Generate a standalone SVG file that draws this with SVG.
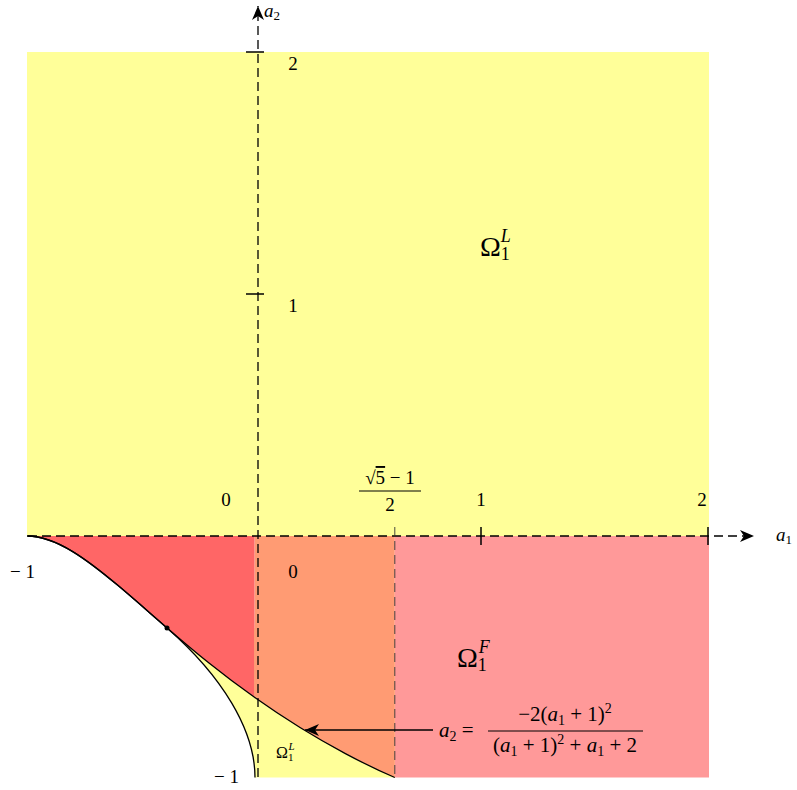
<svg xmlns="http://www.w3.org/2000/svg" width="797" height="790" viewBox="0 0 797 790">
<style>
text{font-family:"Liberation Serif","Times New Roman","DejaVu Serif",serif;fill:#000}
.i{font-style:italic}
.ax{stroke:#000;stroke-width:1.3;stroke-dasharray:9,5;fill:none}
.tk{stroke:#000;stroke-width:1.5}
.cv{stroke:#000;stroke-width:1.3;fill:none}
</style>
<defs>
<marker id="st" viewBox="-14 -7 15 14" refX="0" refY="0" markerWidth="15" markerHeight="14" markerUnits="userSpaceOnUse" orient="auto">
<path d="M0,0 L-14,-6 L-10,0 L-14,6 Z" fill="#000"/>
</marker>
</defs>
<rect width="797" height="790" fill="#fff"/>
<g id="regions">
<rect id="omegaL-top" x="27" y="52" width="682" height="484" fill="#FFFF99"/>
<path id="omegaL-low" d="M167,628 C222,676 255,730 255,777.5 L395,777.5 L395,628 Z" fill="#FFFF99"/>
<path id="orange" d="M254.5,536 L394.8,536 L394.8,777.5 C378.28,770.48 361.92,762.41 345.4,753.6 C330.25,745.52 315.15,736.85 300,727.5 C284.85,718.15 269.650,708.05 254.5,697.3 Z" fill="#FF9B73"/>
<path id="red" d="M27.2,536 C42.35,536 57.55,542.37 72.7,551.6 C87.85,560.83 102.95,572.87 118.1,585.6 C133.25,598.33 148.45,611.79 163.6,624.9 C178.75,638.01 193.85,650.86 209,663 C224.15,675.14 239.35,686.55 254.5,697.3 L254.5,536 Z" fill="#FF6666"/>
<rect id="omegaF" x="394.8" y="536" width="314.2" height="241.5" fill="#FF9999"/>
</g>
<g id="connectors">
<path id="curve-frac" class="cv" d="M27.2,536 C42.35,536 57.55,542.37 72.7,551.6 C87.85,560.83 102.95,572.87 118.1,585.6 C133.25,598.33 148.45,611.79 163.6,624.9 C178.75,638.01 193.85,650.86 209,663 C224.15,675.14 239.35,686.55 254.5,697.3 C269.65,708.05 284.85,718.15 300,727.5 C315.15,736.85 330.25,745.52 345.4,753.6 C361.92,762.41 378.28,770.48 394.8,777.5"/>
<path id="curve-outer" class="cv" stroke-width="1.6" d="M27.2,536 C42.35,536 57.55,542.37 72.7,551.6 C87.85,560.83 102.95,572.87 118.1,585.6 C133.25,598.33 148.45,611.79 163.6,624.9 L167,628 C222,676 255,730 255,777.5"/>
<circle cx="167" cy="628" r="2.5" fill="#000"/>
<line id="axis-a1" class="ax" x1="28" y1="536" x2="754" y2="536" marker-end="url(#st)"/>
<line id="axis-a2" class="ax" x1="258" y1="777" x2="258" y2="6" marker-end="url(#st)"/>
<line id="vline" x1="394.8" y1="527" x2="394.8" y2="777" stroke="#333" stroke-width="0.9" stroke-dasharray="9,5"/>
<line class="tk" x1="246" y1="52" x2="264" y2="52"/>
<line class="tk" x1="246" y1="294" x2="264" y2="294"/>
<line class="tk" x1="481" y1="527" x2="481" y2="545"/>
<line class="tk" x1="708" y1="527" x2="708" y2="545"/>
<line id="formula-arrow" x1="433" y1="730" x2="305" y2="730" stroke="#000" stroke-width="1.3" marker-end="url(#st)"/>
</g>
<g id="labels" font-size="19">
<text x="264" y="17" class="i" font-size="19">a<tspan font-size="13" font-style="normal" dy="3">2</tspan></text>
<text x="776" y="541" class="i" font-size="19">a<tspan font-size="13" font-style="normal" dy="3">1</tspan></text>
<text x="293" y="70" text-anchor="middle">2</text>
<text x="293" y="312" text-anchor="middle">1</text>
<text x="226" y="506" text-anchor="middle">0</text>
<text x="481" y="506" text-anchor="middle">1</text>
<text x="702" y="506" text-anchor="middle">2</text>
<text x="293" y="578" text-anchor="middle">0</text>
<text x="10" y="578">− 1</text>
<text x="214" y="783">− 1</text>
<g id="sqrt-label">
<text x="390" y="484" text-anchor="middle">√<tspan text-decoration="overline">5</tspan> − 1</text>
<line x1="359" y1="491" x2="421" y2="491" stroke="#000" stroke-width="1"/>
<text x="390" y="511" text-anchor="middle">2</text>
</g>
<text id="lbl-omegaL" x="480" y="256" font-size="28">Ω<tspan font-size="18" dy="4">1</tspan><tspan font-size="18" class="i" dx="-9" dy="-18">L</tspan></text>
<text id="lbl-omegaF" x="457" y="667" font-size="28">Ω<tspan font-size="18" dy="4">1</tspan><tspan font-size="18" class="i" dx="-8" dy="-18">F</tspan></text>
<text id="lbl-omegaL-small" x="276" y="758" font-size="16">Ω<tspan font-size="11" dy="3">1</tspan><tspan font-size="11" class="i" dx="-5" dy="-11">L</tspan></text>
<g id="formula" font-size="21">
<text x="439" y="737"><tspan class="i">a</tspan><tspan font-size="14" dy="4">2</tspan><tspan dy="-4"> =</tspan></text>
<text x="565" y="721" text-anchor="middle">−2(<tspan class="i">a</tspan><tspan font-size="14" dy="4">1</tspan><tspan dy="-4"> + 1)</tspan><tspan font-size="14" dy="-8">2</tspan></text>
<line x1="488" y1="731" x2="643" y2="731" stroke="#000" stroke-width="1"/>
<text x="565" y="752" text-anchor="middle">(<tspan class="i">a</tspan><tspan font-size="14" dy="4">1</tspan><tspan dy="-4"> + 1)</tspan><tspan font-size="14" dy="-8">2</tspan><tspan dy="8"> + </tspan><tspan class="i">a</tspan><tspan font-size="14" dy="4">1</tspan><tspan dy="-4"> + 2</tspan></text>
</g>
</g>
</svg>
